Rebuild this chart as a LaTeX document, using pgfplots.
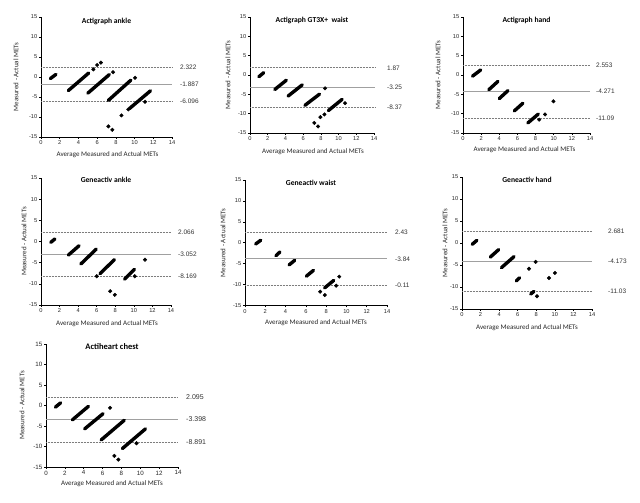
\documentclass[border=0pt]{standalone}
\usepackage{fontspec}
\setmainfont{Carlito}
\newfontfamily\arial{Liberation Sans}
\usepackage{pgfplots}
\pgfplotsset{compat=1.18}
\definecolor{meangray}{RGB}{160,160,160}
\definecolor{loagray}{RGB}{125,125,125}
\pgfplotsset{
 ba/.style={
  scale only axis, xmin=0,xmax=14,ymin=-15,ymax=15,
  axis x line=bottom, axis y line=left,
  axis line style={-, line width=0.6pt, black},
  xtick={0,2,...,14}, ytick={-15,-10,...,15},
  tick align=outside, major tick length=2pt,
  tick style={black, line width=0.5pt},
  /pgf/number format/assume math mode=true,
  tick label style={font=\arial\fontsize{5.7}{6}\selectfont, text=black!85},
  xticklabel style={inner sep=1.5pt},
  yticklabel style={inner sep=1.5pt},
  clip=false,
 },
 streak/.style={black, line width=3.4pt, line cap=round},
 dots/.style={only marks, mark=*, mark size=1.8pt, black},
 meanl/.style={meangray, line width=0.8pt},
 loal/.style={loagray, line width=0.55pt, dash pattern=on 0.5pt off 1.0pt},
}
\tikzset{
 vlab/.style={anchor=west, font=\arial\fontsize{6.5}{7}\selectfont, text=black!80, inner sep=0pt},
 ttl/.style={font=\bfseries\fontsize{7.6}{8}\selectfont, inner sep=0pt},
 xlab/.style={font=\fontsize{7}{8}\selectfont, text=black!85, inner sep=0pt},
 ylab/.style={font=\fontsize{7}{8}\selectfont, text=black!85, inner sep=0pt, rotate=90, anchor=center},
}
\begin{document}
\begin{tikzpicture}
\path[use as bounding box] (0,0) rectangle (640pt,503pt);

% ---------- Panel 1: Actigraph ankle
\begin{axis}[ba, at={(41pt,366pt)}, anchor=south west, width=131pt, height=120pt]
\addplot[loal] coordinates {(0,2.322)(14,2.322)};
\addplot[meanl] coordinates {(0,-1.887)(14,-1.887)};
\addplot[loal] coordinates {(0,-6.096)(14,-6.096)};
\addplot[streak] coordinates {(1.0,-0.4)(1.6,0.65)};
\addplot[streak] coordinates {(2.92,-3.4)(5.1,1.0)};
\addplot[streak] coordinates {(5.0,-4.05)(7.3,0.6)};
\addplot[streak] coordinates {(7.2,-5.85)(9.6,-0.8)};
\addplot[streak] coordinates {(9.45,-7.9)(11.7,-3.45)};
\addplot[dots] coordinates {(5.6,1.9)(6.0,3.0)(6.4,3.6)(7.7,1.2)(10.05,-0.2)(8.6,-9.6)(11.12,-6.2)(7.2,-12.35)(7.62,-13.2)(9.33,-8.1)};
\node[vlab, xshift=8pt] at (axis cs:14,2.322) {2.322};
\node[vlab, xshift=8pt] at (axis cs:14,-1.887) {-1.887};
\node[vlab, xshift=8pt] at (axis cs:14,-6.096) {-6.096};
\node[ttl, yshift=-4pt] at (rel axis cs:0.5,1) {Actigraph ankle};
\node[xlab, xshift=1pt, yshift=-18pt] at (rel axis cs:0.5,0) {Average Measured and Actual METs};
\node[ylab] at (axis cs:-2.67,0) {Measured - Actual METs};
\end{axis}

% ---------- Panel 2: Actigraph GT3X+ waist
\begin{axis}[ba, at={(250pt,370pt)}, anchor=south west, width=124pt, height=116pt]
\addplot[loal] coordinates {(0,1.87)(14.1,1.87)};
\addplot[meanl] coordinates {(0,-3.25)(14.1,-3.25)};
\addplot[loal] coordinates {(0,-8.37)(14.1,-8.37)};
\addplot[streak] coordinates {(1.0,-0.45)(1.55,0.6)};
\addplot[streak] coordinates {(2.8,-3.75)(4.1,-1.35)};
\addplot[streak] coordinates {(4.3,-5.45)(5.9,-2.55)};
\addplot[streak] coordinates {(6.2,-7.85)(7.85,-4.95)};
\addplot[streak] coordinates {(8.85,-9.2)(10.4,-6.3)};
\addplot[dots] coordinates {(8.47,-3.45)(10.73,-7.28)(7.95,-10.9)(8.4,-10.2)(7.26,-12.4)(7.68,-13.3)};
\node[vlab, xshift=13pt] at (axis cs:14,1.87) {1.87};
\node[vlab, xshift=13pt] at (axis cs:14,-3.25) {-3.25};
\node[vlab, xshift=13pt] at (axis cs:14,-8.37) {-8.37};
\node[ttl, yshift=-3pt] at (rel axis cs:0.5,1) {Actigraph GT3X+\ \ waist};
\node[xlab, xshift=1pt, yshift=-19pt] at (rel axis cs:0.5,0) {Average Measured and Actual METs};
\node[ylab] at (axis cs:-2.48,0) {Measured - Actual METs};
\end{axis}

% ---------- Panel 3: Actigraph hand
\begin{axis}[ba, at={(463pt,370pt)}, anchor=south west, width=127pt, height=116pt]
\addplot[loal] coordinates {(0,2.553)(14,2.553)};
\addplot[meanl] coordinates {(0,-4.271)(14,-4.271)};
\addplot[loal] coordinates {(0,-11.09)(14,-11.09)};
\addplot[streak] coordinates {(1.05,-0.3)(1.95,1.3)};
\addplot[streak] coordinates {(2.85,-3.8)(3.85,-1.65)};
\addplot[streak] coordinates {(4.0,-6.1)(4.95,-4.05)};
\addplot[streak] coordinates {(5.65,-9.3)(6.6,-7.3)};
\addplot[streak] coordinates {(7.15,-12.4)(8.3,-10.1)};
\addplot[dots] coordinates {(8.4,-11.55)(9.05,-10.2)(9.97,-6.8)};
\node[vlab, xshift=6pt] at (axis cs:14,2.553) {2.553};
\node[vlab, xshift=6pt] at (axis cs:14,-4.271) {-4.271};
\node[vlab, xshift=6pt] at (axis cs:14,-11.09) {-11.09};
\node[ttl, yshift=-3pt] at (rel axis cs:0.5,1) {Actigraph hand};
\node[xlab, xshift=-2pt, yshift=-17pt] at (rel axis cs:0.5,0) {Average Measured and Actual METs};
\node[ylab] at (axis cs:-2.76,0) {Measured - Actual METs};
\end{axis}

% ---------- Panel 4: Geneactiv ankle
\begin{axis}[ba, at={(41pt,198pt)}, anchor=south west, width=130pt, height=127pt]
\addplot[loal] coordinates {(0,2.066)(14,2.066)};
\addplot[meanl] coordinates {(0,-3.052)(14,-3.052)};
\addplot[loal] coordinates {(0,-8.169)(14,-8.169)};
\addplot[streak] coordinates {(1.05,-0.2)(1.5,0.6)};
\addplot[streak] coordinates {(2.95,-3.2)(4.1,-1.0)};
\addplot[streak] coordinates {(4.3,-5.3)(5.95,-1.8)};
\addplot[streak] coordinates {(6.35,-7.6)(7.9,-4.3)};
\addplot[streak] coordinates {(9.0,-8.9)(10.05,-6.6)};
\addplot[dots] coordinates {(6.0,-8.2)(10.1,-8.2)(11.2,-4.3)(7.45,-11.75)(7.95,-12.6)};
\node[vlab, xshift=7pt] at (axis cs:14,2.066) {2.066};
\node[vlab, xshift=7pt] at (axis cs:14,-3.052) {-3.052};
\node[vlab, xshift=7pt] at (axis cs:14,-8.169) {-8.169};
\node[ttl, yshift=-2pt] at (rel axis cs:0.5,1) {Geneactiv ankle};
\node[xlab, xshift=1pt, yshift=-19pt] at (rel axis cs:0.5,0) {Average Measured and Actual METs};
\node[ylab] at (axis cs:-1.83,0) {Measured - Actual METs};
\end{axis}

% ---------- Panel 5: Geneactiv waist
\begin{axis}[ba, at={(245pt,197.5pt)}, anchor=south west, width=142pt, height=125.5pt]
\addplot[loal] coordinates {(0,2.43)(14,2.43)};
\addplot[meanl] coordinates {(0,-3.84)(14,-3.84)};
\addplot[loal] coordinates {(0,-10.11)(14,-10.11)};
\addplot[streak] coordinates {(1.05,-0.3)(1.55,0.6)};
\addplot[streak] coordinates {(3.05,-3.1)(3.45,-2.2)};
\addplot[streak] coordinates {(4.35,-5.3)(4.9,-4.2)};
\addplot[streak] coordinates {(6.05,-8.0)(6.75,-6.6)};
\addplot[streak] coordinates {(7.85,-10.8)(8.75,-9.0)};
\addplot[dots] coordinates {(7.41,-11.7)(7.87,-12.5)(8.99,-10.26)(9.29,-8.1)};
\node[vlab, xshift=8pt] at (axis cs:14,2.43) {2.43};
\node[vlab, xshift=8pt] at (axis cs:14,-3.84) {-3.84};
\node[vlab, xshift=8pt] at (axis cs:14,-10.11) {-0.11};
\node[ttl, xshift=-5pt, yshift=-3pt] at (rel axis cs:0.5,1) {Geneactiv waist};
\node[xlab, yshift=-17pt] at (rel axis cs:0.5,0) {Average Measured and Actual METs};
\node[ylab] at (axis cs:-2.17,0) {Measured - Actual METs};
\end{axis}

% ---------- Panel 6: Geneactiv hand
\begin{axis}[ba, at={(462pt,194pt)}, anchor=south west, width=130pt, height=132pt]
\addplot[loal] coordinates {(0,2.681)(14,2.681)};
\addplot[meanl] coordinates {(0,-4.173)(14,-4.173)};
\addplot[loal] coordinates {(0,-11.03)(14,-11.03)};
\addplot[streak] coordinates {(1.1,-0.3)(1.6,0.6)};
\addplot[streak] coordinates {(3.05,-3.2)(3.95,-1.5)};
\addplot[streak] coordinates {(4.25,-5.6)(5.6,-3.1)};
\addplot[streak] coordinates {(5.85,-8.6)(6.2,-7.9)};
\addplot[streak] coordinates {(7.4,-11.6)(7.75,-11.0)};
\addplot[dots] coordinates {(7.21,-5.85)(7.93,-4.3)(8.08,-12.1)(9.37,-7.95)(10.01,-6.8)};
\node[vlab, xshift=16pt] at (axis cs:14,2.681) {2.681};
\node[vlab, xshift=16pt] at (axis cs:14,-4.173) {-4.173};
\node[vlab, xshift=16pt] at (axis cs:14,-11.03) {-11.03};
\node[ttl, yshift=-3pt] at (rel axis cs:0.5,1) {Geneactiv hand};
\node[xlab, yshift=-19pt] at (rel axis cs:0.5,0) {Average Measured and Actual METs};
\node[ylab] at (axis cs:-1.83,0) {Measured - Actual METs};
\end{axis}

% ---------- Panel 7: Actiheart chest
\begin{axis}[ba, at={(46pt,36pt)}, anchor=south west, width=132pt, height=123pt,
  tick label style={font=\arial\fontsize{6.2}{7}\selectfont, text=black!85}]
\addplot[loal] coordinates {(0,2.095)(14,2.095)};
\addplot[meanl] coordinates {(0,-3.398)(14,-3.398)};
\addplot[loal] coordinates {(0,-8.891)(14,-8.891)};
\addplot[streak] coordinates {(1.0,-0.4)(1.55,0.65)};
\addplot[streak] coordinates {(2.8,-3.5)(4.5,-0.2)};
\addplot[streak] coordinates {(4.1,-5.7)(6.05,-2.0)};
\addplot[streak] coordinates {(5.85,-8.4)(8.3,-3.6)};
\addplot[streak] coordinates {(8.1,-10.5)(10.55,-5.7)};
\addplot[dots] coordinates {(6.79,-0.57)(9.6,-9.2)(7.25,-12.3)(7.67,-13.2)};
\node[vlab, xshift=8pt, font=\arial\fontsize{7}{8}\selectfont] at (axis cs:14,2.095) {2.095};
\node[vlab, xshift=8pt, font=\arial\fontsize{7}{8}\selectfont] at (axis cs:14,-3.398) {-3.398};
\node[vlab, xshift=8pt, font=\arial\fontsize{7}{8}\selectfont] at (axis cs:14,-8.891) {-8.891};
\node[ttl, font=\bfseries\fontsize{8.5}{9}\selectfont, yshift=-3pt] at (rel axis cs:0.5,1) {Actiheart chest};
\node[xlab, yshift=-17pt] at (rel axis cs:0.5,0) {Average Measured and Actual METs};
\node[ylab] at (axis cs:-2.55,0) {Measured - Actual METs};
\end{axis}
\end{tikzpicture}
\end{document}
